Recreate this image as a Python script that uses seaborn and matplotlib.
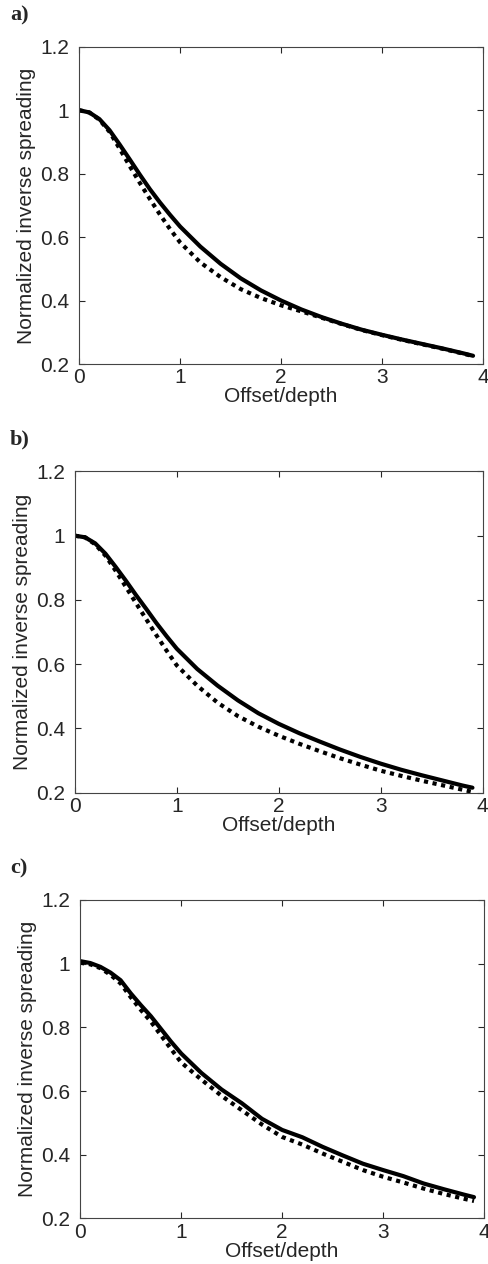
import pandas as pd
import matplotlib
matplotlib.use("Agg")
import matplotlib.pyplot as plt
import seaborn as sns

sns.set_style("ticks")
plt.rcParams["font.family"] = ["Liberation Sans", "DejaVu Sans"]
plt.rcParams["xtick.direction"] = "in"
plt.rcParams["ytick.direction"] = "in"

# offset/depth samples
offset = [0.0, 0.1, 0.2, 0.3, 0.4, 0.5, 0.6, 0.7, 0.8, 0.9, 1.0, 1.2, 1.4, 1.6, 1.8,
          2.0, 2.2, 2.4, 2.6, 2.8, 3.0, 3.2, 3.4, 3.6, 3.8, 3.9]

# panel a
a_solid = [1.000, 0.993, 0.972, 0.937, 0.892, 0.845, 0.797, 0.751, 0.709, 0.670, 0.633,
           0.570, 0.516, 0.470, 0.432, 0.400, 0.372, 0.348, 0.327, 0.308, 0.292, 0.277,
           0.263, 0.249, 0.234, 0.226]
a_dot = [1.000, 0.993, 0.970, 0.932, 0.879, 0.824, 0.771, 0.720, 0.671, 0.625, 0.583,
         0.520, 0.474, 0.436, 0.408, 0.385, 0.366, 0.346, 0.326, 0.307, 0.291, 0.276,
         0.262, 0.248, 0.233, 0.225]

# panel b
b_solid = [1.000, 0.995, 0.976, 0.944, 0.903, 0.860, 0.815, 0.772, 0.728, 0.687, 0.648,
           0.585, 0.533, 0.487, 0.447, 0.414, 0.385, 0.359, 0.334, 0.311, 0.290, 0.271,
           0.254, 0.238, 0.222, 0.215]
b_dot = [1.000, 0.995, 0.973, 0.938, 0.891, 0.841, 0.790, 0.740, 0.690, 0.642, 0.596,
         0.533, 0.480, 0.438, 0.405, 0.377, 0.352, 0.329, 0.307, 0.287, 0.268, 0.252,
         0.237, 0.223, 0.209, 0.202]

# panel c
c_solid = [1.008, 1.002, 0.990, 0.972, 0.948, 0.907, 0.870, 0.835, 0.795, 0.755, 0.718,
           0.657, 0.605, 0.562, 0.513, 0.478, 0.455, 0.425, 0.398, 0.372, 0.352, 0.333,
           0.310, 0.292, 0.275, 0.267]
c_dot = [1.003, 0.998, 0.986, 0.965, 0.938, 0.895, 0.855, 0.818, 0.775, 0.732, 0.690,
         0.636, 0.585, 0.540, 0.495, 0.456, 0.432, 0.404, 0.378, 0.352, 0.331, 0.313,
         0.294, 0.277, 0.262, 0.255]

panels = [("a)", a_solid, a_dot), ("b)", b_solid, b_dot), ("c)", c_solid, c_dot)]
# axes rectangles in figure fraction (left, bottom, width, height)
rects = [(0.162, 0.712, 0.826, 0.251),
         (0.153, 0.373, 0.834, 0.254),
         (0.164, 0.036, 0.826, 0.252)]
label_y = [0.996, 0.660, 0.321]

fig = plt.figure(figsize=(4.89, 12.64), dpi=100)

for (name, solid, dot), rect, ly in zip(panels, rects, label_y):
    ax = fig.add_axes(rect)
    df = pd.DataFrame({"offset": offset + offset,
                       "value": solid + dot,
                       "kind": ["solid"] * len(offset) + ["dot"] * len(offset)})
    sns.lineplot(data=df, x="offset", y="value", hue="kind", style="kind",
                 palette={"solid": "black", "dot": "black"},
                 dashes={"solid": "", "dot": (1.0, 1.1)},
                 linewidth=3.0, legend=False, ax=ax)
    for line in ax.get_lines():
        line.set_dash_capstyle("butt")
        line.set_solid_joinstyle("round")
    ax.set_xlim(0, 4)
    ax.set_ylim(0.2, 1.2)
    ax.set_xticks([0, 1, 2, 3, 4])
    ax.set_yticks([0.2, 0.4, 0.6, 0.8, 1.0, 1.2])
    ax.set_yticklabels(["0.2", "0.4", "0.6", "0.8", "1", "1.2"])
    ax.tick_params(which="both", direction="in", top=True, right=True,
                   length=4, width=0.8, labelsize=15)
    ax.tick_params(axis="x", pad=3)
    ax.tick_params(axis="y", pad=7)
    for sp in ax.spines.values():
        sp.set_visible(True)
        sp.set_linewidth(0.8)
        sp.set_color("#444444")
    ax.set_xlabel("Offset/depth", fontsize=15, labelpad=0)
    ax.set_ylabel("Normalized inverse spreading", fontsize=15, labelpad=3)
    fig.text(0.02, ly, name, fontsize=16, fontweight="bold",
             family="Liberation Serif", va="top")

fig.savefig("out.png", dpi=100)
